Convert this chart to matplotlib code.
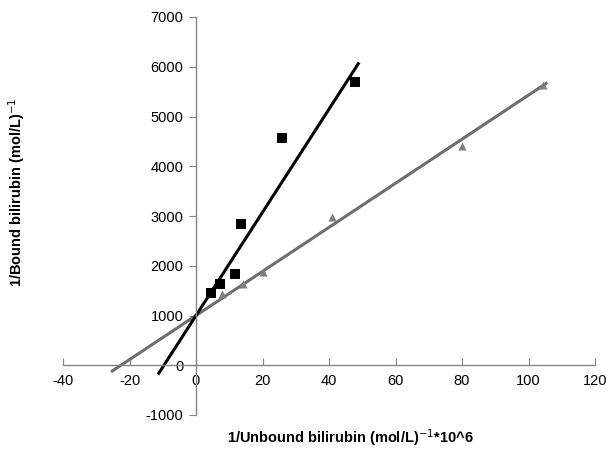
import matplotlib
matplotlib.use("Agg")
import matplotlib.pyplot as plt
import numpy as np

plt.rcParams['font.family'] = ['Liberation Sans', 'DejaVu Sans']
plt.rcParams['mathtext.fontset'] = 'custom'
plt.rcParams['mathtext.rm'] = 'Liberation Sans:bold'
plt.rcParams['mathtext.it'] = 'Liberation Sans:bold'
plt.rcParams['mathtext.bf'] = 'Liberation Sans:bold'

# Series 1 (black squares)
sq_x = [4.5, 7.2, 11.7, 13.5, 26.0, 47.7]
sq_y = [1450, 1630, 1830, 2840, 4570, 5690]
# Series 2 (gray triangles)
tr_x = [7.8, 14.0, 20.0, 41.0, 80.0, 104.5]
tr_y = [1430, 1630, 1870, 2980, 4400, 5630]

# Trend lines: slope, intercept, x-range
blk_slope, blk_int, blk_range = 103.7, 1000, (-11.2, 48.8)
gry_slope, gry_int, gry_range = 44.3, 1000, (-25.2, 105.3)

xticks = [-40, -20, 0, 20, 40, 60, 80, 100, 120]
yticks = [-1000, 0, 1000, 2000, 3000, 4000, 5000, 6000, 7000]

fig = plt.figure(figsize=(6.08, 4.51), dpi=100)
ax = fig.add_axes([63/608, 1-415/451, (595-63)/608, (415-17)/451])
ax.set_xlim(-40, 120)
ax.set_ylim(-1000, 7000)

axcol = '#868686'
for s in ['top', 'right']:
    ax.spines[s].set_visible(False)
ax.spines['left'].set_position(('data', 0))
ax.spines['bottom'].set_position(('data', 0))
for s in ['left', 'bottom']:
    ax.spines[s].set_color(axcol)
    ax.spines[s].set_linewidth(1.0)

ax.set_xticks(xticks)
ax.set_yticks(yticks)
ax.tick_params(axis='x', direction='in', length=5, color=axcol, labelsize=10.5, pad=6)
ax.tick_params(axis='y', direction='out', length=5, color=axcol, labelsize=10.5, pad=4)

ax.set_xticklabels([str(t) for t in xticks])
ax.set_yticklabels([str(t) for t in yticks])

bx = np.array(blk_range)
gx = np.array(gry_range)
ax.plot(gx, gry_slope * gx + gry_int, color='#6e6e6e', lw=2.2, zorder=2)
ax.plot(bx, blk_slope * bx + blk_int, color='black', lw=2.2, zorder=2)
ax.scatter(tr_x, tr_y, marker='^', s=34, color='#7f7f7f', zorder=3, linewidths=0)
ax.scatter(sq_x, sq_y, marker='s', s=42, color='black', zorder=3, linewidths=0)

fig.text(350/608, 1-438/451, '1/Unbound bilirubin (mol/L)$^{\\mathsf{-1}}$*10^6', ha='center', va='center',
         fontsize=10.5, fontweight='bold')
fig.text(17/608, 1-192/451, '1/Bound bilirubin (mol/L)$^{\\mathsf{-1}}$', ha='center', va='center',
         rotation=90, fontsize=10.5, fontweight='bold')

fig.savefig('out.png', dpi=100)
